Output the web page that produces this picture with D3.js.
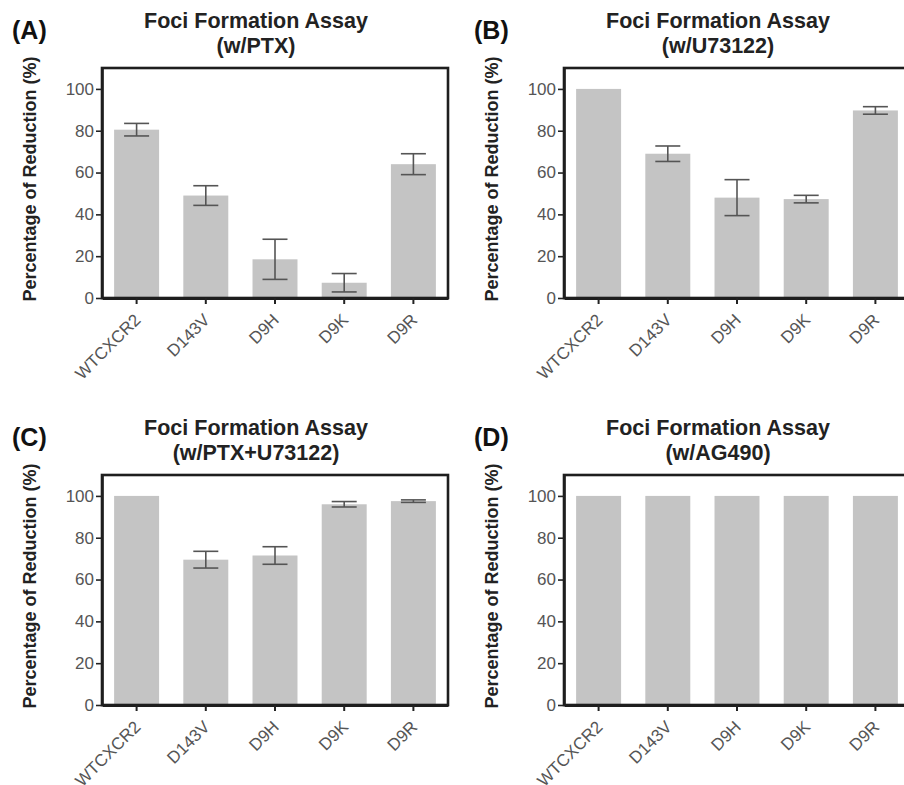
<!DOCTYPE html>
<html>
<head>
<meta charset="utf-8">
<script src="https://cdn.jsdelivr.net/npm/d3@7"></script>
<style>
    body { margin: 0; background: #fff; }
    svg { display: block; font-family: "Liberation Sans", Arial, sans-serif; }
</style>
</head>
<body>
<svg id="chart" width="904" height="785"></svg>
<script>
// data
let categories = ["WTCXCR2", "D143V", "D9H", "D9K", "D9R"];
let yTicks = [0, 20, 40, 60, 80, 100];

let meanPTX = [80.5, 49, 18.5, 7.3, 64];
let errPTX = [3, 4.7, 9.6, 4.4, 5];

let meanU73122 = [100, 69, 48, 47.3, 89.7];
let errU73122 = [0, 3.7, 8.6, 1.8, 1.8];

let meanPTXU73122 = [100, 69.5, 71.5, 96, 97.5];
let errPTXU73122 = [0, 4, 4.2, 1.3, 0.6];

let meanAG490 = [100, 100, 100, 100, 100];
let errAG490 = [0, 0, 0, 0, 0];

let panelLetters = ["(A)", "(B)", "(C)", "(D)"];
let panelSubtitles = ["(w/PTX)", "(w/U73122)", "(w/PTX+U73122)", "(w/AG490)"];
let panelMeans = [meanPTX, meanU73122, meanPTXU73122, meanAG490];
let panelErrs = [errPTX, errU73122, errPTXU73122, errAG490];

//layout
let boxW = 346;
let boxH = 230;
let offsets = [[0, 0], [462, 0], [0, 407], [462, 407]];
let frameColor = "#1e1e1e";

let svg = d3.select("#chart");

let x = d3.scaleBand()
    .domain(categories)
    .range([0, boxW])
    .paddingInner(0.35)
    .paddingOuter(0.175);

let y = d3.scaleLinear()
    .domain([0, 110])
    .range([boxH, 0]);

panelLetters.forEach(function(letter, p) {
    let ox = offsets[p][0];
    let oy = offsets[p][1];

    let panel = svg.append("g")
        .attr("transform", `translate(${ox},${oy})`);

    //letter + title
    panel.append("text")
        .attr("x", 12)
        .attr("y", 39)
        .attr("font-size", 25)
        .attr("font-weight", "bold")
        .attr("fill", "#111")
        .text(letter);

    panel.append("text")
        .attr("x", 256)
        .attr("y", 28)
        .attr("text-anchor", "middle")
        .attr("font-size", 21.5)
        .attr("font-weight", "bold")
        .attr("fill", "#222")
        .text("Foci Formation Assay");

    panel.append("text")
        .attr("x", 256)
        .attr("y", 53)
        .attr("text-anchor", "middle")
        .attr("font-size", 21.5)
        .attr("font-weight", "bold")
        .attr("fill", "#222")
        .text(panelSubtitles[p]);

    //y label
    panel.append("text")
        .attr("transform", "translate(36,179) rotate(-90)")
        .attr("text-anchor", "middle")
        .attr("font-size", 18)
        .attr("font-weight", "bold")
        .attr("fill", "#222")
        .text("Percentage of Reduction (%)");

    let g = panel.append("g")
        .attr("transform", "translate(102,68)");

    let rows = categories.map(function(c, i) {
        return { cat: c, mean: panelMeans[p][i], err: panelErrs[p][i] };
    });

    //bars
    g.selectAll("rect.bar")
        .data(rows)
        .enter()
        .append("rect")
        .attr("class", "bar")
        .attr("x", d => x(d.cat))
        .attr("y", d => y(d.mean))
        .attr("width", x.bandwidth())
        .attr("height", d => y(0) - y(d.mean))
        .attr("fill", "#c4c4c4");

    //error bars
    let eb = g.selectAll("g.err")
        .data(rows.filter(d => d.err > 0))
        .enter()
        .append("g")
        .attr("class", "err")
        .attr("stroke", "#555")
        .attr("stroke-width", 1.6);

    eb.append("line")
        .attr("x1", d => x(d.cat) + x.bandwidth() / 2)
        .attr("x2", d => x(d.cat) + x.bandwidth() / 2)
        .attr("y1", d => y(d.mean - d.err))
        .attr("y2", d => y(d.mean + d.err));

    eb.append("line")
        .attr("x1", d => x(d.cat) + x.bandwidth() / 2 - 12.5)
        .attr("x2", d => x(d.cat) + x.bandwidth() / 2 + 12.5)
        .attr("y1", d => y(d.mean + d.err))
        .attr("y2", d => y(d.mean + d.err));

    eb.append("line")
        .attr("x1", d => x(d.cat) + x.bandwidth() / 2 - 12.5)
        .attr("x2", d => x(d.cat) + x.bandwidth() / 2 + 12.5)
        .attr("y1", d => y(d.mean - d.err))
        .attr("y2", d => y(d.mean - d.err));

    //box around the plot area
    g.append("rect")
        .attr("class", "plot-frame")
        .attr("x", 0)
        .attr("y", 0)
        .attr("width", boxW)
        .attr("height", boxH)
        .style("fill", "none")
        .style("stroke", frameColor)
        .style("stroke-width", "2.6px");

    //y axis
    let yAxis = g.append("g")
        .call(d3.axisLeft(y).tickValues(yTicks).tickSize(6).tickPadding(2).tickSizeOuter(0));
    yAxis.select(".domain")
        .attr("stroke", frameColor)
        .attr("stroke-width", 2.6);
    yAxis.selectAll("line").attr("stroke", "#222").attr("stroke-width", 1.6);
    yAxis.selectAll("text")
        .attr("font-size", 17)
        .attr("font-family", "Liberation Sans, Arial, sans-serif")
        .attr("fill", "#555");

    //x axis
    let xAxis = g.append("g")
        .attr("transform", `translate(0,${boxH})`)
        .call(d3.axisBottom(x).tickSize(6).tickPadding(4).tickSizeOuter(0));
    xAxis.select(".domain")
        .attr("stroke", frameColor)
        .attr("stroke-width", 2.8);
    xAxis.selectAll("line").attr("stroke", "#222").attr("stroke-width", 2);
    xAxis.selectAll("text")
        .attr("font-size", 17)
        .attr("font-family", "Liberation Sans, Arial, sans-serif")
        .attr("fill", "#555")
        .attr("text-anchor", "end")
        .attr("x", 0)
        .attr("y", 0)
        .attr("dy", 0)
        .attr("transform", "translate(5,23) rotate(-45)");
});
</script>
</body>
</html>
